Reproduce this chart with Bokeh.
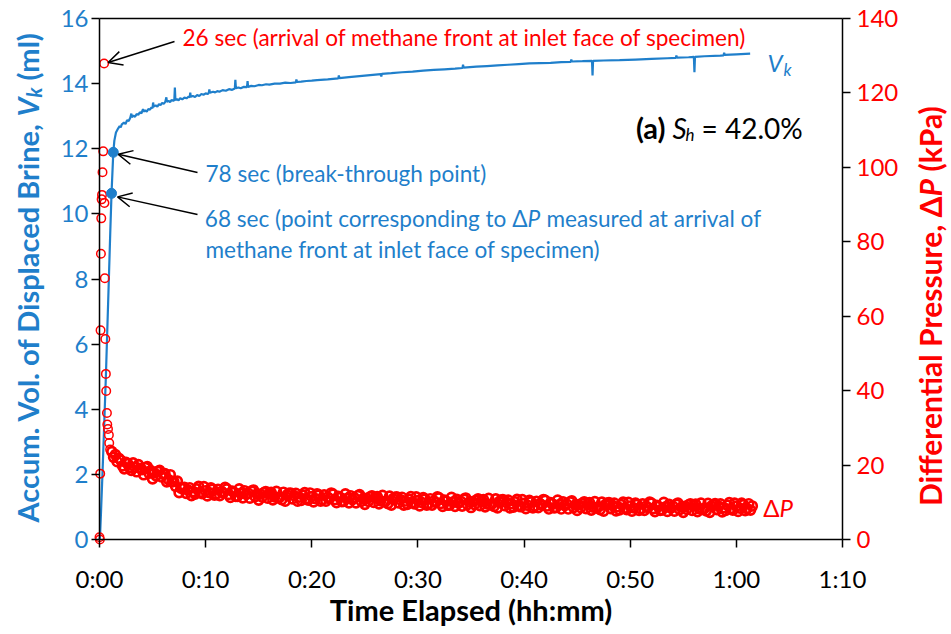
from math import pi
import numpy as np
from bokeh.plotting import figure
from bokeh.models import Range1d, LinearAxis, FixedTicker, Label, Arrow, OpenHead
from bokeh.embed import file_html
from bokeh.resources import INLINE

FONT = "Lato"
BLUE = "#1F7FCB"
RED = "#FF0000"

# ---- axes -------------------------------------------------------------
x_ticks = [0, 10, 20, 30, 40, 50, 60, 70]                 # minutes
x_tick_labels = ["0:00", "0:10", "0:20", "0:30", "0:40", "0:50", "1:00", "1:10"]
vk_ticks = [0, 2, 4, 6, 8, 10, 12, 14, 16]                # ml
dp_ticks = [0, 20, 40, 60, 80, 100, 120, 140]             # kPa

# ---- accumulated displaced brine volume, V_k ---------------------------
vk_time_min = [
    0, 0.05, 0.15, 0.3, 0.45, 0.6, 0.75, 0.9, 1.02, 1.133, 1.3,
    1.4, 1.55, 1.75, 1.9, 2.0, 2.1, 2.3, 2.45, 2.6, 2.75, 2.9, 3.0, 3.05, 3.2,
    3.35, 3.5, 3.65, 3.8, 3.95, 4.1, 4.15, 4.3, 4.45, 4.6, 4.75, 4.9, 5.0, 5.05,
    5.1, 5.3, 5.45, 5.6, 5.75, 5.9, 6.05, 6.2, 6.3, 6.35, 6.5, 6.65, 6.8, 6.95,
    7.05, 7.1, 7.15, 7.3, 7.45, 7.6, 7.8, 8.0, 8.2, 8.4, 8.5, 8.55, 8.6, 8.8,
    9.0, 9.2, 9.4, 9.6, 9.8, 10.0, 10.2, 10.3, 10.35, 10.4, 10.7, 10.9, 11.1,
    11.3, 11.6, 11.9, 12.2, 12.5, 12.75, 12.8, 12.85, 13.1, 13.3, 13.6, 13.9,
    13.95, 14.0, 14.3, 14.6, 15.0, 15.3, 15.7, 16.0, 16.5, 17.0, 17.5, 18.0,
    18.5, 18.55, 18.6, 19.0, 19.5, 20.0, 20.5, 21.5,
    22.5, 22.55, 22.6, 23.5, 24.5, 25.5, 26.5, 26.55, 26.6, 27.5, 28.5, 29.5,
    30.5, 31.5, 32.5, 33.5, 34.2, 34.25, 34.3, 35.5, 36.5, 37.5, 38.5, 39.5,
    40.5, 41.5, 42.5, 43.5, 44.4, 44.45, 44.5, 45.5, 46.4, 46.45, 46.5, 47.5,
    49.0, 50.5, 52.0, 53.5, 54.3, 54.35, 54.4, 55.5, 56.0, 56.05, 56.1, 57.0,
    58.5, 58.8, 58.85, 58.9, 60.0, 61.3,
]
vk_ml = [
    0, 0.1, 0.9, 2.2, 3.6, 5.0, 6.6, 8.2, 9.5, 10.63, 11.89,
    12.25, 12.5, 12.62, 12.7, 12.66, 12.75, 12.8, 12.76, 12.88, 12.85, 12.95,
    13.08, 12.97, 13.02, 12.98, 13.07, 13.04, 13.12, 13.09, 13.22, 13.14, 13.18,
    13.14, 13.22, 13.2, 13.27, 13.25, 13.42, 13.3, 13.33, 13.29, 13.37, 13.34,
    13.41, 13.38, 13.44, 13.58, 13.44, 13.47, 13.43, 13.5, 13.47, 13.5, 13.88,
    13.5, 13.52, 13.49, 13.55, 13.52, 13.57, 13.55, 13.6, 13.58, 13.72, 13.6,
    13.62, 13.59, 13.65, 13.62, 13.68, 13.66, 13.7, 13.68, 13.72, 13.82, 13.72,
    13.75, 13.73, 13.77, 13.75, 13.8, 13.78, 13.83, 13.81, 13.85, 14.12, 13.86,
    13.88, 13.86, 13.9, 13.89, 14.08, 13.9, 13.93, 13.92, 13.96, 13.95, 13.98,
    13.97, 14.0, 14.0, 14.03, 14.02, 14.04, 14.13, 14.05, 14.06, 14.08, 14.09,
    14.11, 14.13,
    14.16, 14.25, 14.17, 14.2, 14.23, 14.26, 14.29, 14.22, 14.3, 14.32, 14.35,
    14.37, 14.4, 14.42, 14.44, 14.46, 14.48, 14.58, 14.49, 14.52, 14.54, 14.56,
    14.58, 14.6, 14.62, 14.63, 14.64, 14.66, 14.67, 14.74, 14.68, 14.69, 14.7,
    14.25, 14.7, 14.71, 14.72, 14.74, 14.76, 14.78, 14.79, 14.86, 14.8, 14.81,
    14.82, 14.35, 14.82, 14.84, 14.86, 14.87, 14.95, 14.88, 14.9, 14.92,
]

# marked points on the V_k curve
key_sec = [68, 78]
key_ml = [10.63, 11.89]

# ---- differential pressure, dP -------------------------------------------
dp_early_sec = [0, 2, 4, 6, 8, 10, 12, 14, 17, 21, 26, 28, 30, 33, 36, 38,
                42, 44, 48, 53, 55, 60]
dp_early_kpa = [0.6, 0.0, 17.7, 56.2, 76.8, 86.3, 91.4, 92.6, 98.7, 104.3,
                127.9, 90.4, 70.2, 53.9, 44.5, 39.9, 34.0, 30.9, 29.7, 28.1,
                25.9, 24.2]
peak_sec = 26

# logger readings every 10 s starting at 70 s (one row per minute)
dp_log_start_sec = 70
dp_log_step_sec = 10
dp_log_kpa = [
    23.6, 22.1, 22.8, 20.9, 21.8,
    21.3, 19.8, 19.0, 20.7, 20.4, 19.3,
    18.6, 20.6, 19.4, 18.2, 20.1, 19.1,
    18.8, 17.4, 19.3, 19.6, 17.8, 18.5,
    16.3, 17.9, 17.1, 18.3, 18.6, 16.8,
    17.6, 17.7, 15.5, 16.1, 17.4, 15.5,
    15.6, 14.3, 15.7, 12.6, 13.8, 13.7,
    14.0, 12.4, 13.3, 13.9, 11.8, 12.9,
    12.2, 13.6, 14.3, 12.7, 12.3, 14.2,
    13.1, 11.7, 12.6, 13.9, 13.5, 11.9,
    12.2, 13.5, 11.8, 12.9, 12.5, 14.0,
    13.6, 12.1, 11.3, 13.0, 12.7, 11.6,
    11.6, 13.6, 12.4, 11.2, 13.1, 12.1,
    12.5, 11.1, 13.0, 13.3, 11.5, 12.2,
    10.6, 12.2, 11.4, 12.6, 12.9, 11.1,
    12.35, 12.65, 10.65, 11.45, 12.95, 11.25,
    11.4, 10.7, 12.7, 10.3, 12.0, 12.4,
    12.5, 10.9, 11.8, 12.4, 10.3, 11.4,
    10.5, 11.9, 12.6, 11.0, 10.6, 12.5,
    11.5, 10.1, 11.0, 12.3, 11.9, 10.3,
    10.7, 12.0, 10.3, 11.4, 11.0, 12.5,
    12.2, 10.7, 9.9, 11.6, 11.3, 10.2,
    10.25, 12.25, 11.05, 9.85, 11.75, 10.75,
    11.25, 9.85, 11.75, 12.05, 10.25, 10.95,
    9.45, 11.05, 10.25, 11.45, 11.75, 9.95,
    11.25, 11.55, 9.55, 10.35, 11.85, 10.15,
    10.35, 9.65, 11.65, 9.25, 10.95, 11.35,
    11.45, 9.85, 10.75, 11.35, 9.25, 10.35,
    9.45, 10.85, 11.55, 9.95, 9.55, 11.45,
    10.45, 9.05, 9.95, 11.25, 10.85, 9.25,
    9.65, 10.95, 9.25, 10.35, 9.95, 11.45,
    11.2, 9.7, 8.9, 10.6, 10.3, 9.2,
    9.3, 11.3, 10.1, 8.9, 10.8, 9.8,
    10.35, 8.95, 10.85, 11.15, 9.35, 10.05,
    8.6, 10.2, 9.4, 10.6, 10.9, 9.1,
    10.45, 10.75, 8.75, 9.55, 11.05, 9.35,
    9.6, 8.9, 10.9, 8.5, 10.2, 10.6,
    10.7, 9.1, 10.0, 10.6, 8.5, 9.6,
    8.7, 10.1, 10.8, 9.2, 8.8, 10.7,
    9.7, 8.3, 9.2, 10.5, 10.1, 8.5,
    8.95, 10.25, 8.55, 9.65, 9.25, 10.75,
    10.5, 9.0, 8.2, 9.9, 9.6, 8.5,
    8.6, 10.6, 9.4, 8.2, 10.1, 9.1,
    9.6, 8.2, 10.1, 10.4, 8.6, 9.3,
    7.8, 9.4, 8.6, 9.8, 10.1, 8.3,
    9.6, 9.9, 7.9, 8.7, 10.2, 8.5,
    8.75, 8.05, 10.05, 7.65, 9.35, 9.75,
    9.9, 8.3, 9.2, 9.8, 7.7, 8.8,
    7.95, 9.35, 10.05, 8.45, 8.05, 9.95,
    9.0, 7.6, 8.5, 9.8, 9.4, 7.8,
    8.25, 9.55, 7.85, 8.95, 8.55, 10.05,
    9.8, 8.3, 7.5, 9.2, 8.9, 7.8,
    7.95, 9.95, 8.75, 7.55, 9.45, 8.45,
    9.0, 7.6, 9.5, 9.8, 8.0, 8.7,
    7.3, 8.9, 8.1, 9.3, 9.6, 7.8,
    9.2, 9.5, 7.5, 8.3, 9.8, 8.1,
    8.4, 7.7, 9.7, 7.3, 9.0, 9.4,
    9.65, 8.05, 8.95, 9.55, 7.45, 8.55,
    7.8, 9.2, 9.9, 8.3, 7.9, 9.8,
    8.95, 7.55, 8.45, 9.75, 9.35, 7.75,
    8.3, 9.6, 7.9, 9.0,
]

# ---- canvas geometry (px); the plot box sits inside a full-canvas frame ----
W, H = 951, 634
FL, FR, FT, FB = 99, 842, 18, 539
X_MAX, VK_MAX, DP_MAX = 70, 16, 140


def X(px):
    return (px - FL) / (FR - FL) * X_MAX


def Y(py):
    return (FB - py) / (FB - FT) * VK_MAX


def YD(py):
    return (FB - py) / (FB - FT) * DP_MAX


p = figure(width=W, height=H, x_range=Range1d(X(0), X(W)), y_range=Range1d(Y(H), Y(0)),
           min_border=0, output_backend="svg", toolbar_location=None)
p.extra_y_ranges = {"dp": Range1d(YD(H), YD(0))}
p.background_fill_color = "white"
p.border_fill_color = "white"
p.outline_line_color = None
p.xgrid.visible = False
p.ygrid.visible = False


def style_axis(ax, color, standoff):
    ax.axis_line_color = "black"
    ax.axis_line_width = 1.5
    ax.major_tick_line_color = "black"
    ax.major_tick_line_width = 1.5
    ax.major_tick_in = 0
    ax.major_tick_out = 8
    ax.minor_tick_in = 0
    ax.minor_tick_out = 0
    ax.major_label_text_font = FONT
    ax.major_label_text_font_size = "24px"
    ax.major_label_text_color = color
    ax.major_label_standoff = standoff


xa = p.xaxis[0]
xa.ticker = FixedTicker(ticks=x_ticks)
xa.major_label_overrides = {t: s for t, s in zip(x_ticks, x_tick_labels)}
xa.fixed_location = 0
xa.bounds = (0, X_MAX)
style_axis(xa, "black", 16)

ya = p.yaxis[0]
ya.ticker = FixedTicker(ticks=vk_ticks)
ya.fixed_location = 0
ya.bounds = (0, VK_MAX)
style_axis(ya, BLUE, 3)

ra = LinearAxis(y_range_name="dp", ticker=FixedTicker(ticks=dp_ticks),
                fixed_location=X_MAX, bounds=(0, DP_MAX))
style_axis(ra, RED, 6)
p.add_layout(ra, "right")

ta = LinearAxis(ticker=FixedTicker(ticks=[]), fixed_location=VK_MAX, bounds=(0, X_MAX),
                axis_line_color="black", axis_line_width=1.5,
                major_label_text_font_size="0px")
p.add_layout(ta, "above")

# ---- data ------------------------------------------------------------------
p.line(vk_time_min, vk_ml, line_color=BLUE, line_width=2.2)

# dense logger band (thicker rings so the overlapping markers read as a band)
dp_log_min = (dp_log_start_sec + dp_log_step_sec * np.arange(len(dp_log_kpa))) / 60.0
p.scatter(dp_log_min, dp_log_kpa, marker="circle", size=9, fill_color=None,
          line_color=RED, line_width=2.7, y_range_name="dp")

# first minute: sparse readings around the pressure peak
dp_early_min = np.array(dp_early_sec) / 60.0
p.scatter(dp_early_min, dp_early_kpa, marker="circle", size=8.5, fill_color=None,
          line_color=RED, line_width=1.5, y_range_name="dp")

key_min = [s / 60.0 for s in key_sec]
p.scatter(key_min, key_ml, marker="circle", size=10, fill_color=BLUE, line_color=BLUE)


# ---- texts -----------------------------------------------------------------
def txt(px, py, s, size, color, style="normal", align="left", angle=0.0, xo=0, yo=0):
    p.add_layout(Label(x=X(px), y=Y(py), text=s, text_font=FONT,
                       text_font_size=f"{size}px", text_color=color,
                       text_font_style=style, text_align=align,
                       text_baseline="middle", angle=angle,
                       x_offset=xo, y_offset=yo))


# axis titles
txt(470.5, 609, "Time Elapsed (hh:mm)", 29, "black", "bold", align="center")

lx, lv = 27, 116
txt(lx, lv + 6, "Accum. Vol. of Displaced Brine,", 29, BLUE, "bold", "right", pi / 2)
txt(lx, lv, "V", 29, BLUE, "bold italic", "left", pi / 2)
txt(lx + 6, lv - 19, "k", 20, BLUE, "bold italic", "left", pi / 2)
txt(lx, lv - 19 - 11 - 6, "(ml)", 29, BLUE, "bold", "left", pi / 2)

rx, rp = 929, 196
txt(rx, rp, "Differential Pressure, \u0394", 30, RED, "bold", "right", pi / 2)
txt(rx, rp, "P", 30, RED, "bold italic", "left", pi / 2)
txt(rx, rp - 19 - 6, "(kPa)", 30, RED, "bold", "left", pi / 2)

# annotations
AS = 22.6
TX_RED = 182
TX_BLUE = 205
txt(TX_RED, 37, "26 sec (arrival of methane front at inlet face of specimen)", AS, RED)
txt(TX_BLUE, 173, "78 sec (break-through point)", AS, BLUE)
XP = TX_BLUE + 322
txt(XP, 218, "68 sec (point corresponding to \u0394", AS, BLUE, align="right")
txt(XP, 218, "P", AS, BLUE, "italic")
txt(XP + 19, 218, "measured at arrival of", AS, BLUE)
txt(TX_BLUE, 249, "methane front at inlet face of specimen)", AS, BLUE)

txt(767, 62, "V", 24, BLUE, "italic")
txt(783, 62, "k", 17, BLUE, "italic", yo=-7)

txt(665, 127, "(a)", 29, "black", "bold", align="right")
txt(672, 127, "S", 28, "black", "italic")
txt(685, 127, "h", 17, "black", "italic", yo=-7)
txt(701, 127, "= 42.0%", 28, "black")

txt(779, 507, "\u0394", 24, RED, align="right")
txt(779, 507, "P", 24, RED, "italic")

# ---- arrows ----------------------------------------------------------------
def head():
    return OpenHead(size=14, line_color="black", line_width=1.5)


peak_kpa = dp_early_kpa[dp_early_sec.index(peak_sec)]
px_min = X_MAX / (FR - FL)          # minutes per px
px_dp = DP_MAX / (FB - FT)          # kPa per px
px_vk = VK_MAX / (FB - FT)          # ml per px
p.add_layout(Arrow(end=head(), x_start=X(174), y_start=YD(41),
                   x_end=peak_sec / 60.0 + 4 * px_min, y_end=peak_kpa + 1 * px_dp,
                   line_color="black", line_width=1.5, y_range_name="dp"))
p.add_layout(Arrow(end=head(), x_start=X(197), y_start=Y(172),
                   x_end=key_min[1] + 5 * px_min, y_end=key_ml[1] - 2 * px_vk,
                   line_color="black", line_width=1.5))
p.add_layout(Arrow(end=head(), x_start=X(197), y_start=Y(214),
                   x_end=key_min[0] + 6 * px_min, y_end=key_ml[0] - 3.5 * px_vk,
                   line_color="black", line_width=1.5))

open("out.html", "w").write(file_html(p, INLINE))
